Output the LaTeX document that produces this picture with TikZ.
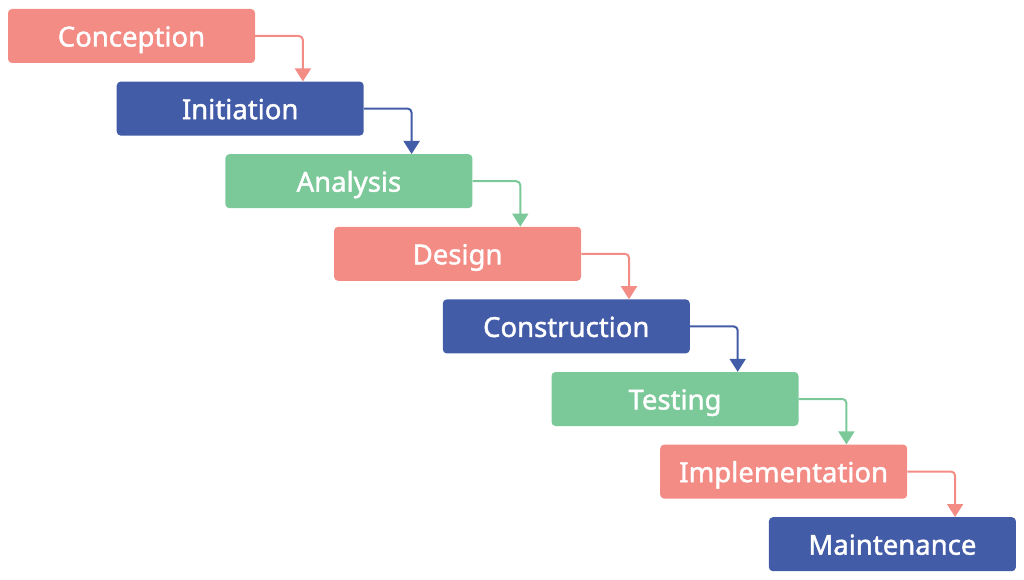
\documentclass[tikz,border=0pt]{standalone}
\usepackage{fontspec}
\setmainfont{Noto Sans}
\newfontfamily\lblfont[FakeBold=1.5]{Noto Sans}
\usetikzlibrary{arrows.meta}
\definecolor{salmon}{HTML}{F48C86}
\definecolor{navy}{HTML}{435CA8}
\definecolor{mint}{HTML}{7BC899}
\tikzset{
  stage/.style={fill=#1, draw=none, rounded corners=4pt, minimum width=247pt, minimum height=54pt,
    inner sep=0pt, text=white, text height=21pt, text depth=0pt,
    font=\lblfont\fontsize{27.5}{31}\selectfont},
  link/.style={draw=#1, line width=2pt, rounded corners=4pt, -{Triangle[width=16pt,length=13pt]}}
}
\begin{document}
\begin{tikzpicture}[x=1pt,y=-1pt]
\useasboundingbox (0,0) rectangle (1024,580);
\node[stage=salmon] (s1) at (131.5,36) {Conception};
\node[stage=navy]   (s2) at (240.2,108.6) {Initiation};
\node[stage=mint]   (s3) at (348.9,181.2) {Analysis};
\node[stage=salmon] (s4) at (457.6,253.8) {Design};
\node[stage=navy]   (s5) at (566.3,326.4) {Construction};
\node[stage=mint]   (s6) at (675.0,399.0) {Testing};
\node[stage=salmon] (s7) at (783.7,471.6) {Implementation};
\node[stage=navy]   (s8) at (892.4,544.2) {Maintenance};
\draw[link=salmon] (s1.east) -| ([xshift=-61pt]s2.north east);
\draw[link=navy]   (s2.east) -| ([xshift=-61pt]s3.north east);
\draw[link=mint]   (s3.east) -| ([xshift=-61pt]s4.north east);
\draw[link=salmon] (s4.east) -| ([xshift=-61pt]s5.north east);
\draw[link=navy]   (s5.east) -| ([xshift=-61pt]s6.north east);
\draw[link=mint]   (s6.east) -| ([xshift=-61pt]s7.north east);
\draw[link=salmon] (s7.east) -| ([xshift=-61pt]s8.north east);
\end{tikzpicture}
\end{document}
